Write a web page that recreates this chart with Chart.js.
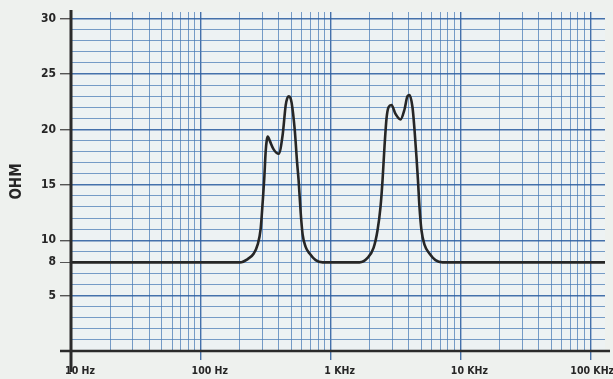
<!DOCTYPE html>
<html>
<head>
<meta charset="utf-8">
<script src="https://cdn.jsdelivr.net/npm/chart.js@4"></script>
<style>
  html, body { margin: 0; padding: 0; background: #eef1ee; }
  #wrap { width: 613px; height: 379px; position: relative; }
</style>
</head>
<body>
<div id="wrap"><canvas id="ohmChart"></canvas></div>
<script>
// Impedance curve
const freqHz = [10, 200, 230, 256, 274, 289, 300, 308, 316, 322, 328, 334, 342, 364, 398, 427, 451, 463, 475, 488, 501, 529, 552, 567, 588, 609, 642, 689, 767, 868,
    1670, 1926, 2142, 2299, 2424, 2512, 2603, 2697, 2794, 2946, 3162, 3455, 3709, 3911, 4053, 4274, 4429, 4587, 4711, 4838, 5012, 5286, 5775, 6423, 7270, 130000];
const ohms = [8, 8, 8.3, 8.8, 9.6, 11, 13.5, 15.5, 18.0, 19.0, 19.35, 19.2, 18.9, 18.2, 17.8, 19.5, 22.2, 22.8, 23, 22.9, 22.4, 20, 17, 15.4, 12.5, 10.5, 9.4, 8.8, 8.2, 8,
    8, 8.4, 9.3, 10.9, 13, 15.4, 18.5, 21, 22, 22.2, 21.4, 20.9, 21.8, 23, 23.1, 22, 20, 17.5, 15.4, 13, 10.9, 9.6, 8.8, 8.2, 8, 8];

const decadeValues = [10, 100, 1000, 10000, 100000];
const decadeLabels = ['10 Hz', '100 Hz', '1 KHz', '10 KHz', '100 KHz'];
const ohmLabels = [5, 8, 10, 15, 20, 25, 30];

const lineBlue = 'rgba(70,120,180,0.72)';
const majorBlue = 'rgba(45,95,160,0.88)';
const labelFont = { family: "'Liberation Sans Narrow', 'DejaVu Sans Condensed', 'Liberation Sans', sans-serif", size: 12, weight: 'bold' };

// extend axis lines past the plot like the printed chart
const axisLines = {
    id: 'axisLines',
    afterDatasetsDraw(chart) {
        const ctx = chart.ctx, x = chart.scales.x, y = chart.scales.y;
        const x0 = x.getPixelForValue(10), y0 = y.getPixelForValue(0);
        ctx.save();
        ctx.strokeStyle = '#2b2b2b';
        ctx.lineWidth = 3;
        ctx.beginPath();
        ctx.moveTo(x0, chart.chartArea.top - 2);
        ctx.lineTo(x0, y0 + 21);
        ctx.stroke();
        ctx.lineWidth = 2.5;
        ctx.beginPath();
        ctx.moveTo(x0 - 11, y0);
        ctx.lineTo(chart.chartArea.right + 5, y0);
        ctx.stroke();
        ctx.restore();
    }
};

const areaBg = {
    id: 'areaBg',
    beforeDraw(chart) {
        const a = chart.chartArea, ctx = chart.ctx;
        ctx.save();
        ctx.fillStyle = '#edf2f3';
        ctx.fillRect(a.left, a.top, a.right - a.left, a.bottom - a.top);
        ctx.restore();
        // pull the last x label back inside the page
        const items = chart.scales.x.getLabelItems();
        items.forEach(it => {
            if (it.label === decadeLabels[decadeLabels.length - 1]) it.options.translation[0] -= 7;
        });
    }
};

const ctx = document.getElementById('ohmChart').getContext('2d');
const ohmChart = new Chart(ctx, {
    type: 'line',
    data: {
        datasets: [{
            data: freqHz.map((f, i) => ({ x: f, y: ohms[i] })),
            borderColor: '#262626',
            borderWidth: 2.6,
            pointRadius: 0,
            cubicInterpolationMode: 'monotone',
            fill: false
        }]
    },
    options: {
        responsive: true,
        maintainAspectRatio: false,
        animation: false,
        layout: { padding: { top: 12, right: 8, left: 0, bottom: 0 } },
        plugins: { legend: { display: false }, tooltip: { enabled: false } },
        scales: {
            x: {
                type: 'logarithmic',
                min: 10,
                max: 130000,
                afterBuildTicks(scale) {
                    const t = [];
                    decadeValues.forEach(d => {
                        for (let m = 1; m <= 9; m++) {
                            if (d * m <= 100000) t.push({ value: d * m });
                        }
                    });
                    scale.ticks = t;
                },
                afterFit(scale) {
                    scale.height = 28;
                    scale.paddingLeft = 0;
                    scale.paddingRight = 0;
                },
                border: { display: false },
                grid: {
                    color: c => decadeValues.includes(c.tick.value) ? majorBlue : lineBlue,
                    lineWidth: c => decadeValues.includes(c.tick.value) ? 1.4 : 1,
                    tickColor: c => decadeValues.includes(c.tick.value) ? majorBlue : 'rgba(0,0,0,0)',
                    tickLength: 9
                },
                ticks: {
                    autoSkip: false,
                    maxRotation: 0,
                    padding: 5,
                    labelOffset: 9,
                    color: '#262626',
                    font: { ...labelFont, size: 10.5 },
                    callback: v => {
                        const i = decadeValues.indexOf(v);
                        return i >= 0 ? decadeLabels[i] : '';
                    }
                }
            },
            y: {
                min: 0,
                max: 30.6,
                afterBuildTicks(scale) {
                    const t = [];
                    for (let v = 0; v <= 30; v++) t.push({ value: v });
                    scale.ticks = t;
                },
                afterFit(scale) {
                    scale.width = 71;
                    scale.paddingTop = 0;
                    scale.paddingBottom = 0;
                },
                border: { display: false },
                title: {
                    display: true,
                    text: 'OHM',
                    color: '#262626',
                    font: { ...labelFont, size: 15 },
                    padding: { top: 8, bottom: 0 }
                },
                grid: {
                    color: c => c.tick.value === 0 ? 'rgba(0,0,0,0)' : (c.tick.value % 5 === 0 ? majorBlue : lineBlue),
                    lineWidth: c => c.tick.value % 5 === 0 ? 1.4 : 1,
                    tickColor: c => ohmLabels.includes(c.tick.value) ? '#555' : 'rgba(0,0,0,0)',
                    tickLength: 11
                },
                ticks: {
                    autoSkip: false,
                    padding: 4,
                    color: '#262626',
                    font: labelFont,
                    callback: v => ohmLabels.includes(v) ? String(v) : ''
                }
            }
        }
    },
    plugins: [areaBg, axisLines]
});
</script>
</body>
</html>
